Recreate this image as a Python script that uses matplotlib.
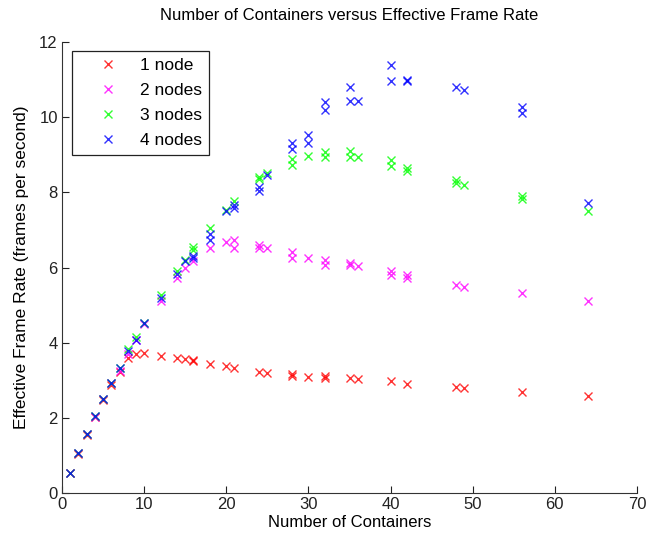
import numpy as np
import matplotlib
matplotlib.use("Agg")
import matplotlib.pyplot as plt

plt.rcParams['font.family'] = ['Liberation Sans', 'DejaVu Sans']

# containers vs effective frame rate, one list pair per node count
x_1node = [1, 2, 3, 4, 5, 6, 7, 8, 9, 10, 12, 14, 15, 16, 16, 18, 20, 21, 24, 25,
           28, 28, 30, 32, 32, 35, 36, 40, 42, 48, 49, 56, 64]
y_1node = [0.53, 1.05, 1.53, 2.02, 2.48, 2.88, 3.22, 3.58, 3.70, 3.73, 3.64, 3.58, 3.56,
           3.55, 3.50, 3.43, 3.38, 3.33, 3.23, 3.20, 3.16, 3.12, 3.09, 3.10, 3.05,
           3.05, 3.03, 2.98, 2.91, 2.81, 2.79, 2.68, 2.58]

x_2nodes = [1, 2, 3, 4, 5, 6, 7, 8, 9, 10, 12, 14, 15, 16, 18, 20, 21, 21, 24, 24, 25,
            28, 28, 30, 32, 32, 35, 35, 36, 40, 40, 42, 42, 48, 49, 56, 64]
y_2nodes = [0.53, 1.06, 1.56, 2.03, 2.49, 2.92, 3.25, 3.70, 4.08, 4.50, 5.10, 5.72, 5.99,
            6.18, 6.52, 6.68, 6.72, 6.52, 6.60, 6.51, 6.51, 6.42, 6.25, 6.26, 6.20, 6.07,
            6.12, 6.06, 6.05, 5.90, 5.80, 5.79, 5.71, 5.54, 5.49, 5.31, 5.10]

x_3nodes = [1, 2, 3, 4, 5, 6, 7, 8, 9, 10, 12, 14, 15, 16, 16, 18, 20, 21, 24, 24, 25,
            28, 28, 30, 32, 32, 35, 35, 36, 40, 40, 42, 42, 48, 48, 49, 56, 56, 64]
y_3nodes = [0.53, 1.07, 1.57, 2.04, 2.50, 2.94, 3.32, 3.82, 4.16, 4.52, 5.28, 5.92, 6.20,
            6.54, 6.47, 7.04, 7.52, 7.78, 8.42, 8.36, 8.52, 8.90, 8.73, 8.97, 9.08, 8.93,
            9.11, 8.94, 8.94, 8.86, 8.70, 8.66, 8.58, 8.34, 8.25, 8.20, 7.90, 7.82, 7.50]

x_4nodes = [1, 2, 3, 4, 5, 6, 7, 8, 9, 10, 12, 14, 15, 16, 16, 18, 18, 20, 21, 21, 24, 24,
            25, 28, 28, 30, 30, 32, 32, 35, 35, 36, 40, 40, 42, 42, 48, 49, 56, 56, 64]
y_4nodes = [0.53, 1.06, 1.57, 2.04, 2.50, 2.94, 3.32, 3.77, 4.07, 4.52, 5.20, 5.84, 6.16,
            6.30, 6.24, 6.88, 6.72, 7.50, 7.65, 7.57, 8.14, 8.04, 8.47, 9.30, 9.14, 9.52,
            9.30, 10.40, 10.20, 10.81, 10.43, 10.44, 11.38, 10.97, 11.00, 10.95, 10.81,
            10.73, 10.28, 10.12, 7.72]

series = [
    (x_1node, y_1node, '#ff0000', '1 node'),
    (x_2nodes, y_2nodes, '#ff00ff', '2 nodes'),
    (x_3nodes, y_3nodes, '#00ff00', '3 nodes'),
    (x_4nodes, y_4nodes, '#0000ff', '4 nodes'),
]

fig = plt.figure(figsize=(6.46, 5.38), dpi=100)
ax = fig.add_axes([62/646, 45/538, 575/646, 451/538])

for xs, ys, col, lab in series:
    ax.plot(xs, ys, linestyle='none', marker='x', markersize=5.5,
            markeredgewidth=1.0, color=col, alpha=0.8, label=lab)

ax.set_xlim(0, 70)
ax.set_ylim(0, 12)
ax.set_xticks(np.arange(0, 71, 10))
ax.set_yticks(np.arange(0, 13, 2))
ax.spines['top'].set_visible(False)
ax.spines['right'].set_visible(False)
for s in ('left', 'bottom'):
    ax.spines[s].set_color('#333333')
ax.tick_params(direction='in', length=5, labelsize=12, colors='#222222', pad=3)

ax.set_title('Number of Containers versus Effective Frame Rate', fontsize=12, pad=16)
ax.set_xlabel('Number of Containers', fontsize=12, labelpad=2)
ax.set_ylabel('Effective Frame Rate (frames per second)', fontsize=12.5, labelpad=7)

leg = ax.legend(loc='upper left', bbox_to_anchor=(10/575, 442/451), borderaxespad=0,
                fontsize=12.5, fancybox=False, edgecolor='#222222', framealpha=1,
                handlelength=3.3, handletextpad=0.2, labelspacing=0.56, borderpad=0.42)
leg.get_frame().set_linewidth(0.9)

fig.savefig('out.png', dpi=100)
